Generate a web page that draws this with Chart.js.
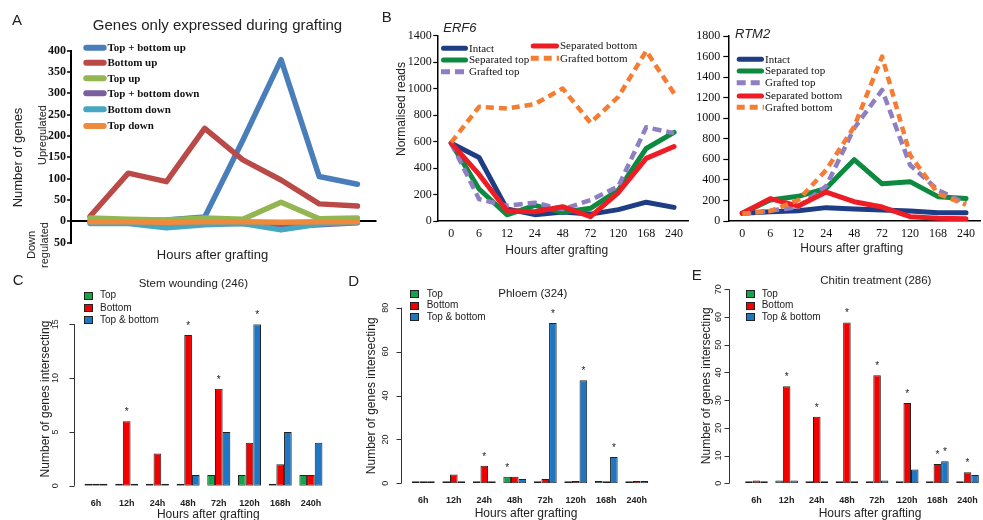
<!DOCTYPE html>
<html>
<head>
<meta charset="utf-8">
<title>Grafting time course</title>
<script src="https://cdn.jsdelivr.net/npm/chart.js@4.4.1/dist/chart.umd.min.js"></script>
<style>
  html, body { margin: 0; padding: 0; background: #fff; width: 983px; height: 520px; overflow: hidden; }
  #fig { position: relative; width: 983px; height: 520px; overflow: hidden; background: #fff; }
</style>
</head>
<body>
<div id="fig"></div>
<script>
// ---------------- data ----------------
// Panel A: genes only expressed during grafting
const hoursA = ['6', '12', '24', '48', '72', '120', '168', '240'];
const topBottomUp   = [2, 2, 3, 10, 190, 379, 105, 87];
const bottomUp      = [12, 113, 93, 218, 144, 97, 41, 36];
const topUp         = [8, 5, 3, 8, 5, 45, 6, 8];
const topBottomDown = [-2, -3, -5, -5, -5, -12, -8, -3];
const bottomDown    = [-5, -5, -15, -8, -5, -20, -6, -2];
const topDown       = [-1, -1, -2, -1, -1, -2, -1, -1];
const axisA = { min: -50, max: 400, step: 50 };

// Panel B: normalised reads of ERF6 and RTM2
const hoursB = ['0', '6', '12', '24', '48', '72', '120', '168', '240'];
const erfIntact      = [588, 480, 92, 48, 68, 52, 86, 142, 103];
const erfSepTop      = [588, 242, 47, 118, 66, 96, 234, 548, 670];
const erfGraftTop    = [588, 165, 115, 138, 88, 158, 262, 708, 664];
const erfSepBottom   = [588, 352, 78, 70, 108, 33, 215, 473, 563];
const erfGraftBottom = [594, 863, 850, 883, 1001, 742, 938, 1285, 964];
const axisERF = { min: 0, max: 1400, step: 200 };

const rtmIntact      = [75, 90, 100, 130, 117, 107, 97, 81, 81];
const rtmSepTop      = [75, 204, 240, 318, 597, 362, 383, 237, 218];
const rtmGraftTop    = [70, 100, 136, 340, 902, 1275, 545, 300, 170];
const rtmSepBottom   = [75, 218, 145, 282, 188, 136, 42, 26, 22];
const rtmGraftBottom = [70, 97, 204, 496, 918, 1600, 642, 265, 160];
const axisRTM = { min: 0, max: 1800, step: 200 };

// Panels C-E: number of genes intersecting other responses
const hoursBar = ['6h', '12h', '24h', '48h', '72h', '120h', '168h', '240h'];

const woundTop        = [0, 0, 0, 0, 1, 1, 0, 1];
const woundBottom     = [0, 6, 3, 14, 9, 4, 2, 1];
const woundBoth       = [0, 0, 0, 1, 5, 15, 5, 4];
const woundTopStar    = [0, 0, 0, 0, 0, 0, 0, 0];
const woundBottomStar = [0, 1, 0, 1, 1, 0, 0, 0];
const woundBothStar   = [0, 0, 0, 0, 0, 1, 0, 0];

const phloemTop        = [0, 0, 0, 3, 0, 0, 1, 0];
const phloemBottom     = [0, 4, 8, 3, 2, 1, 0, 1];
const phloemBoth       = [0, 0, 0, 2, 73, 47, 12, 1];
const phloemTopStar    = [0, 0, 0, 1, 0, 0, 0, 0];
const phloemBottomStar = [0, 0, 1, 0, 0, 0, 0, 0];
const phloemBothStar   = [0, 0, 0, 0, 1, 1, 1, 0];

const chitinTop        = [0, 1, 0, 0, 0, 0, 0, 0];
const chitinBottom     = [1, 35, 24, 58, 39, 29, 7, 4];
const chitinBoth       = [0, 1, 0, 0, 1, 5, 8, 3];
const chitinTopStar    = [0, 0, 0, 0, 0, 0, 0, 0];
const chitinBottomStar = [0, 1, 1, 1, 1, 1, 1, 1];
const chitinBothStar   = [0, 0, 0, 0, 0, 0, 1, 0];

// ---------------- styling ----------------
const SANS  = '"Liberation Sans", Arial, Helvetica, sans-serif';
const SERIF = '"Liberation Serif", "Times New Roman", Times, serif';
const INK = '#222';
const BAR_TOP = '#14a44a', BAR_BOTTOM = '#f20000', BAR_BOTH = '#1f76c2';

Chart.defaults.animation = false;
Chart.defaults.devicePixelRatio = 1;

// ---------------- plugins ----------------
// free text (panel letters, titles, axis titles) given in page coordinates
const notesPlugin = {
  id: 'notes',
  afterDraw(chart, args, opts) {
    if (!opts.items) return;
    const ctx = chart.ctx;
    const ox = opts.ox, oy = opts.oy;
    for (const n of opts.items) {
      ctx.save();
      ctx.font = n.font;
      ctx.fillStyle = n.color || INK;
      ctx.textAlign = n.align || 'left';
      ctx.textBaseline = 'alphabetic';
      ctx.translate(n.x - ox, n.y - oy);
      if (n.rot) ctx.rotate(n.rot * Math.PI / 180);
      ctx.fillText(n.t, 0, 0);
      ctx.restore();
    }
  }
};

// legend of line samples
const lineKeyPlugin = {
  id: 'lineKey',
  afterDraw(chart, args, opts) {
    if (!opts.entries) return;
    const ctx = chart.ctx;
    const ox = opts.ox, oy = opts.oy;
    for (const e of opts.entries) {
      const ds = chart.data.datasets[e.ds];
      const dashed = ds.borderDash && ds.borderDash.length;
      ctx.save();
      ctx.strokeStyle = ds.borderColor;
      ctx.lineWidth = opts.lineWidth;
      ctx.lineCap = dashed ? 'butt' : 'round';
      ctx.setLineDash(dashed ? ds.borderDash : []);
      ctx.beginPath();
      ctx.moveTo(e.x1 - ox, e.y - oy);
      ctx.lineTo(e.x2 - ox, e.y - oy);
      ctx.stroke();
      ctx.setLineDash([]);
      ctx.font = opts.font;
      ctx.fillStyle = '#111';
      ctx.textAlign = 'left';
      ctx.textBaseline = 'middle';
      ctx.fillText(ds.label, e.tx - ox, e.y - oy + 0.5);
      ctx.restore();
    }
  }
};

// legend of filled boxes
const boxKeyPlugin = {
  id: 'boxKey',
  afterDraw(chart, args, opts) {
    if (!opts.entries) return;
    const ctx = chart.ctx;
    const ox = opts.ox, oy = opts.oy;
    for (const e of opts.entries) {
      const ds = chart.data.datasets[e.ds];
      ctx.save();
      ctx.fillStyle = ds.keyColor;
      ctx.strokeStyle = INK;
      ctx.lineWidth = 1;
      const bx = Math.round(opts.bx - ox) + 0.5, by = Math.round(e.y - oy - 3.5) + 0.5;
      ctx.fillRect(bx, by, 8, 7);
      ctx.strokeRect(bx, by, 8, 7);
      ctx.font = opts.font;
      ctx.fillStyle = INK;
      ctx.textAlign = 'left';
      ctx.textBaseline = 'middle';
      ctx.fillText(ds.label, opts.tx - ox, e.y - oy + 0.5);
      ctx.restore();
    }
  }
};

// significance asterisks above flagged bars
const starPlugin = {
  id: 'stars',
  afterDatasetsDraw(chart, args, opts) {
    if (!opts.lift) return;
    const ctx = chart.ctx;
    ctx.save();
    ctx.font = opts.font;
    ctx.fillStyle = INK;
    ctx.textAlign = 'center';
    ctx.textBaseline = 'alphabetic';
    chart.data.datasets.forEach((ds, i) => {
      if (!ds.stars) return;
      const meta = chart.getDatasetMeta(i);
      ds.stars.forEach((s, j) => {
        if (s) {
          const bar = meta.data[j];
          ctx.fillText('*', bar.x, bar.y - opts.lift);
        }
      });
    });
    ctx.restore();
  }
};

// detached value axis in the style of base R graphics
const rAxisPlugin = {
  id: 'rAxis',
  afterDraw(chart, args, opts) {
    if (!opts.gap) return;
    const ctx = chart.ctx;
    const ys = chart.scales.y;
    const x0 = Math.round(chart.chartArea.left - opts.gap) + 0.5;
    ctx.save();
    ctx.strokeStyle = '#333';
    ctx.lineWidth = 1;
    ctx.beginPath();
    ctx.moveTo(x0, ys.getPixelForValue(ys.min));
    ctx.lineTo(x0, ys.getPixelForValue(ys.max));
    for (const t of ys.ticks) {
      const py = Math.round(ys.getPixelForValue(t.value)) + 0.5;
      ctx.moveTo(x0 - opts.tick, py);
      ctx.lineTo(x0, py);
    }
    ctx.stroke();
    ctx.restore();
  }
};

Chart.register(notesPlugin, lineKeyPlugin, boxKeyPlugin, starPlugin, rAxisPlugin);

// ---------------- helpers ----------------
function makeCanvas(box) {
  const c = document.createElement('canvas');
  c.width = box.w;
  c.height = box.h;
  c.style.cssText = 'position:absolute;left:' + box.x + 'px;top:' + box.y + 'px;width:' + box.w + 'px;height:' + box.h + 'px;';
  document.getElementById('fig').appendChild(c);
  return c;
}

function lineSet(label, data, color, width, dash, n, i) {
  return {
    label, data,
    borderColor: color,
    backgroundColor: color,
    borderWidth: width,
    borderDash: dash || [],
    borderCapStyle: dash ? 'butt' : 'round',
    borderJoinStyle: 'round',
    pointRadius: 0,
    pointHoverRadius: 0,
    tension: 0,
    fill: false,
    order: n - i
  };
}

function barSet(label, data, color, stars) {
  return {
    label, data, stars,
    keyColor: color,
    backgroundColor: (c) => (c.raw === 0 ? INK : color),
    borderColor: INK,
    borderWidth: 1,
    borderSkipped: false,
    minBarLength: 2,
    categoryPercentage: 0.75,
    barPercentage: 1.0
  };
}

// ---------------- Panel A ----------------
(function () {
  const box = { x: 0, y: 0, w: 380, h: 270 };
  const n = 6;
  const sets = [
    lineSet('Top + bottom up', topBottomUp, '#4a7ebb', 5.5, null, n, 0),
    lineSet('Bottom up', bottomUp, '#b94a47', 5.5, null, n, 1),
    lineSet('Top up', topUp, '#93b653', 5.5, null, n, 2),
    lineSet('Top + bottom down', topBottomDown, '#7b5e9e', 5.5, null, n, 3),
    lineSet('Bottom down', bottomDown, '#45a7c1', 5.5, null, n, 4),
    lineSet('Top down', topDown, '#ef8a3c', 5.5, null, n, 5)
  ];
  new Chart(makeCanvas(box), {
    type: 'line',
    data: { labels: hoursA, datasets: sets },
    options: {
      responsive: false,
      layout: { padding: { left: 0, top: 50.7, right: 3.5, bottom: 0 } },
      plugins: {
        legend: { display: false },
        tooltip: { enabled: false },
        notes: {
          ox: box.x, oy: box.y,
          items: [
            { t: 'A', x: 12, y: 25, font: '15px ' + SANS },
            { t: 'Genes only expressed during grafting', x: 217.5, y: 30, align: 'center', font: '15px ' + SANS },
            { t: 'Number of genes', x: 22, y: 157.5, rot: -90, align: 'center', font: '13px ' + SANS },
            { t: 'Upregulated', x: 46, y: 135, rot: -90, align: 'center', font: '11px ' + SANS },
            { t: 'Down', x: 35, y: 245, rot: -90, align: 'center', font: '11px ' + SANS },
            { t: 'regulated', x: 48, y: 245, rot: -90, align: 'center', font: '11px ' + SANS },
            { t: 'Hours after grafting', x: 212.5, y: 259, align: 'center', font: '13px ' + SANS }
          ]
        },
        lineKey: {
          ox: box.x, oy: box.y, lineWidth: 6, font: 'bold 11px ' + SERIF,
          entries: [
            { ds: 0, x1: 86.3, x2: 103.7, tx: 107.5, y: 47.7 },
            { ds: 1, x1: 86.3, x2: 103.7, tx: 107.5, y: 62.7 },
            { ds: 2, x1: 86.3, x2: 103.7, tx: 107.5, y: 78.3 },
            { ds: 3, x1: 86.3, x2: 103.7, tx: 107.5, y: 93.3 },
            { ds: 4, x1: 86.3, x2: 103.7, tx: 107.5, y: 109.3 },
            { ds: 5, x1: 86.3, x2: 103.7, tx: 107.5, y: 126 }
          ]
        }
      },
      scales: {
        x: {
          type: 'category',
          offset: true,
          grid: { display: false, drawTicks: false },
          border: { display: false },
          ticks: { font: { family: SERIF, size: 12, weight: 'bold' }, color: '#111', padding: -11, maxRotation: 0, autoSkip: false },
          afterFit: (s) => { s.height = 27.3; }
        },
        y: {
          min: axisA.min, max: axisA.max,
          ticks: {
            stepSize: axisA.step, autoSkip: false, padding: 1,
            font: { family: SERIF, size: 12, weight: 'bold' }, color: '#111',
            callback: (v) => String(Math.abs(v))
          },
          grid: {
            drawOnChartArea: true,
            color: (c) => (c.tick && c.tick.value === 0 ? '#000' : 'rgba(0,0,0,0)'),
            lineWidth: 2,
            tickColor: '#000', tickWidth: 1.5, tickLength: 4
          },
          border: { color: '#000', width: 2 },
          afterFit: (s) => { s.width = 71; }
        }
      }
    }
  });
})();

// ---------------- Panel B (two genes) ----------------
function geneChart(box, area, sets, axis, notes, keyEntries, yTick) {
  new Chart(makeCanvas(box), {
    type: 'line',
    data: { labels: hoursB, datasets: sets },
    options: {
      responsive: false,
      layout: { padding: { left: 0, top: area.top - box.y, right: box.x + box.w - area.right, bottom: 0 } },
      plugins: {
        legend: { display: false },
        tooltip: { enabled: false },
        notes: { ox: box.x, oy: box.y, items: notes },
        lineKey: { ox: box.x, oy: box.y, lineWidth: 5, font: '11px ' + SERIF, entries: keyEntries }
      },
      scales: {
        x: {
          type: 'category',
          offset: true,
          grid: { display: false, drawTicks: false },
          border: { color: '#000', width: 1.5 },
          ticks: { font: { family: SERIF, size: 12 }, color: '#111', padding: 5.8, maxRotation: 0, autoSkip: false },
          afterFit: (s) => { s.height = box.y + box.h - area.bottom; }
        },
        y: {
          min: axis.min, max: axis.max,
          ticks: {
            stepSize: axis.step, autoSkip: false, padding: yTick.pad,
            font: { family: SERIF, size: 12 }, color: '#111',
            callback: (v) => String(v)
          },
          grid: { drawOnChartArea: false, tickColor: '#000', tickWidth: 1.2, tickLength: yTick.len },
          border: { color: '#000', width: 1.5 },
          afterFit: (s) => { s.width = area.left - box.x; }
        }
      }
    }
  });
}

function geneSets(intact, sepTop, graftTop, sepBottom, graftBottom) {
  const n = 5;
  return [
    lineSet('Intact', intact, '#1f3d85', 5, null, n, 0),
    lineSet('Separated top', sepTop, '#0d8a40', 5, null, n, 1),
    lineSet('Grafted top', graftTop, '#8e7ec2', 4.5, [9, 5], n, 2),
    lineSet('Separated bottom', sepBottom, '#ee1c24', 5, null, n, 3),
    lineSet('Grafted bottom', graftBottom, '#f47d33', 4.5, [8, 5], n, 4)
  ];
}

geneChart(
  { x: 360, y: 0, w: 330, h: 270 },
  { left: 437.3, right: 688, top: 35.7, bottom: 221 },
  geneSets(erfIntact, erfSepTop, erfGraftTop, erfSepBottom, erfGraftBottom),
  axisERF,
  [
    { t: 'B', x: 381.7, y: 21.7, font: '15px ' + SANS },
    { t: 'ERF6', x: 443.3, y: 31.7, font: 'italic 13px ' + SANS },
    { t: 'Normalised reads', x: 405, y: 109, rot: -90, align: 'center', font: '12px ' + SANS },
    { t: 'Hours after grafting', x: 556.7, y: 254, align: 'center', font: '12px ' + SANS }
  ],
  [
    { ds: 0, x1: 443.5, x2: 465.5, tx: 469, y: 48.3 },
    { ds: 1, x1: 443.5, x2: 465.5, tx: 469, y: 60 },
    { ds: 2, x1: 441, x2: 468, tx: 469, y: 71.7 },
    { ds: 3, x1: 533.2, x2: 556.5, tx: 560, y: 46 },
    { ds: 4, x1: 530.7, x2: 559, tx: 560, y: 58.3 }
  ],
  { len: 4, pad: 1.5 }
);

geneChart(
  { x: 690, y: 0, w: 293, h: 270 },
  { left: 728.3, right: 980, top: 36, bottom: 221 },
  geneSets(rtmIntact, rtmSepTop, rtmGraftTop, rtmSepBottom, rtmGraftBottom),
  axisRTM,
  [
    { t: 'RTM2', x: 735, y: 38.3, font: 'italic 13px ' + SANS },
    { t: 'Hours after grafting', x: 851.7, y: 252.3, align: 'center', font: '12px ' + SANS }
  ],
  [
    { ds: 0, x1: 739.2, x2: 761.5, tx: 765, y: 59.3 },
    { ds: 1, x1: 739.2, x2: 761.5, tx: 765, y: 71 },
    { ds: 2, x1: 736.7, x2: 764, tx: 765, y: 82.7 },
    { ds: 3, x1: 739.2, x2: 761.5, tx: 765, y: 96 },
    { ds: 4, x1: 736.7, x2: 764, tx: 765, y: 107.3 }
  ],
  { len: 5, pad: 3 }
);

// ---------------- Panels C-E ----------------
function barChart(box, area, spec) {
  new Chart(makeCanvas(box), {
    type: 'bar',
    data: {
      labels: hoursBar,
      datasets: [
        barSet('Top', spec.top, BAR_TOP, spec.topStar),
        barSet('Bottom', spec.bottom, BAR_BOTTOM, spec.bottomStar),
        barSet('Top & bottom', spec.both, BAR_BOTH, spec.bothStar)
      ]
    },
    options: {
      responsive: false,
      layout: { padding: { left: 0, top: area.top - box.y, right: box.x + box.w - area.right, bottom: 0 } },
      plugins: {
        legend: { display: false },
        tooltip: { enabled: false },
        notes: { ox: box.x, oy: box.y, items: spec.notes },
        boxKey: { ox: box.x, oy: box.y, bx: spec.keyX, tx: spec.keyTextX, font: '10px ' + SANS,
                  entries: spec.keyRows.map((y, i) => ({ ds: i, y })) },
        stars: { font: '10px ' + SANS, lift: 6.2 },
        rAxis: { gap: area.left - spec.axisX, tick: 5 }
      },
      scales: {
        x: {
          type: 'category',
          grid: { display: false, drawTicks: false },
          border: { display: false },
          ticks: { font: { family: SANS, size: 9, weight: 'bold' }, color: INK, padding: spec.xPad, maxRotation: 0, autoSkip: false },
          afterFit: (s) => { s.height = box.y + box.h - area.bottom; }
        },
        y: {
          min: 0, max: spec.max,
          ticks: {
            stepSize: spec.step, autoSkip: false,
            minRotation: 90, maxRotation: 90, crossAlign: 'center',
            padding: area.left - spec.labelX - 5,
            font: { family: SANS, size: 9 }, color: INK
          },
          grid: { display: false, drawTicks: false },
          border: { display: false },
          afterFit: (s) => { s.width = area.left - box.x; }
        }
      }
    }
  });
}

barChart(
  { x: 0, y: 262, w: 340, h: 258 },
  { left: 80.65, right: 326.25, top: 324.3, bottom: 485.7 },
  {
    top: woundTop, bottom: woundBottom, both: woundBoth,
    topStar: woundTopStar, bottomStar: woundBottomStar, bothStar: woundBothStar,
    max: 15, step: 5, axisX: 74, labelX: 55.8, xPad: 12.4,
    keyX: 84.3, keyTextX: 100, keyRows: [295, 307.3, 319.3],
    notes: [
      { t: 'C', x: 12.7, y: 285, font: '15px ' + SANS },
      { t: 'Stem wounding (246)', x: 193.3, y: 286.7, align: 'center', font: '11.5px ' + SANS },
      { t: 'Number of genes intersecting', x: 48.6, y: 399, rot: -90, align: 'center', font: '12px ' + SANS },
      { t: 'Hours after grafting', x: 208.3, y: 518, align: 'center', font: '12px ' + SANS }
    ]
  }
);

barChart(
  { x: 330, y: 262, w: 330, h: 258 },
  { left: 408.06, right: 651.97, top: 307.7, bottom: 483.3 },
  {
    top: phloemTop, bottom: phloemBottom, both: phloemBoth,
    topStar: phloemTopStar, bottomStar: phloemBottomStar, bothStar: phloemBothStar,
    max: 80, step: 20, axisX: 401, labelX: 386, xPad: 12,
    keyX: 410, keyTextX: 426.7, keyRows: [293.3, 305, 316.7],
    notes: [
      { t: 'D', x: 348.3, y: 286, font: '15px ' + SANS },
      { t: 'Phloem (324)', x: 532.8, y: 296.5, align: 'center', font: '11.5px ' + SANS },
      { t: 'Number of genes intersecting', x: 375.3, y: 395.8, rot: -90, align: 'center', font: '12px ' + SANS },
      { t: 'Hours after grafting', x: 526, y: 517, align: 'center', font: '12px ' + SANS }
    ]
  }
);

barChart(
  { x: 660, y: 262, w: 330, h: 258 },
  { left: 741.4, right: 986.4, top: 289.3, bottom: 483.3 },
  {
    top: chitinTop, bottom: chitinBottom, both: chitinBoth,
    topStar: chitinTopStar, bottomStar: chitinBottomStar, bothStar: chitinBothStar,
    max: 70, step: 10, axisX: 729.3, labelX: 719, xPad: 12,
    keyX: 746, keyTextX: 761.7, keyRows: [293.3, 305, 316.7],
    notes: [
      { t: 'E', x: 691.7, y: 280, font: '15px ' + SANS },
      { t: 'Chitin treatment (286)', x: 875.8, y: 284, align: 'center', font: '11.5px ' + SANS },
      { t: 'Number of genes intersecting', x: 710.3, y: 385.8, rot: -90, align: 'center', font: '12px ' + SANS },
      { t: 'Hours after grafting', x: 870, y: 517, align: 'center', font: '12px ' + SANS }
    ]
  }
);
</script>
</body>
</html>
